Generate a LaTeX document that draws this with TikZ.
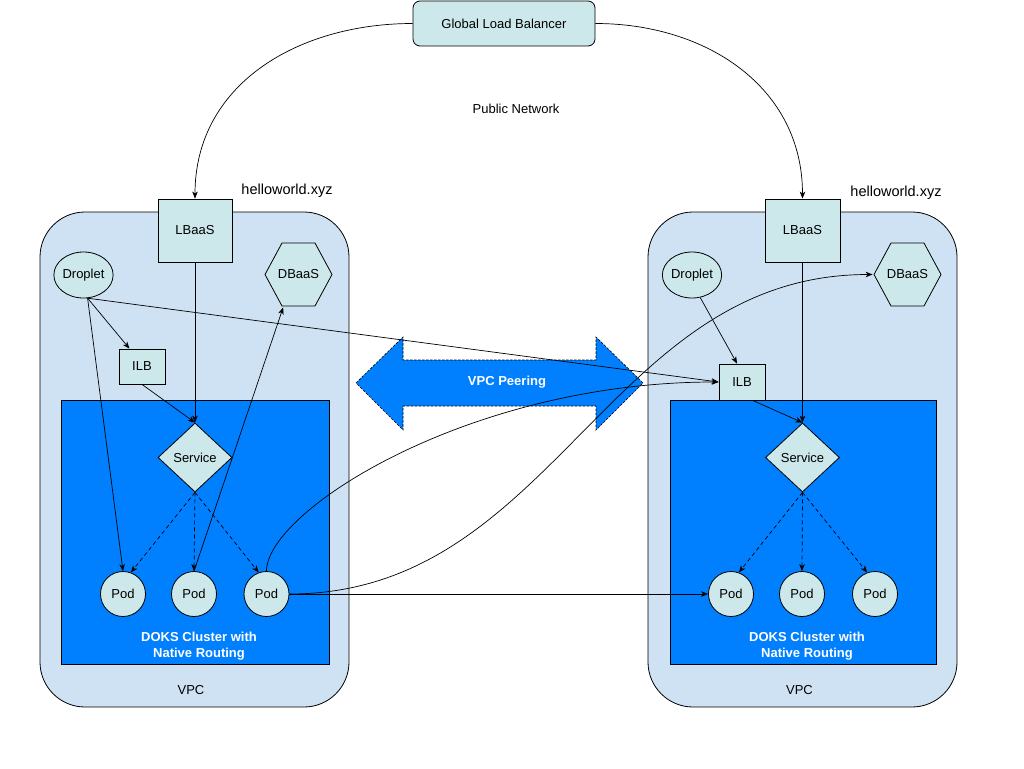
\documentclass[tikz,border=0pt]{standalone}
\usepackage{fontspec}
\setmainfont{Liberation Sans}
\usetikzlibrary{arrows.meta,shapes.geometric}
\definecolor{nodefill}{RGB}{204,232,234}
\definecolor{vpcfill}{RGB}{207,226,243}
\definecolor{doksblue}{RGB}{0,127,255}
\begin{document}
\begin{tikzpicture}[x=1pt,y=-1pt,line width=0.8pt,
  every node/.style={font=\fontsize{13}{15}\selectfont,inner sep=0pt},
  box/.style={draw,fill=nodefill,rectangle},
  pod/.style={draw,fill=nodefill,circle,minimum size=45pt},
  drop/.style={draw,fill=nodefill,ellipse,minimum width=59pt,minimum height=46pt},
  svc/.style={draw,fill=nodefill,diamond,aspect=1.07,minimum width=74pt,minimum height=69pt},
  hexnode/.style={minimum width=69pt,minimum height=65pt,
    path picture={\draw[fill=nodefill,line width=0.8pt]
      ([xshift=1pt]path picture bounding box.west) --
      ([xshift=18pt,yshift=-1pt]path picture bounding box.north west) --
      ([xshift=-18pt,yshift=-1pt]path picture bounding box.north east) --
      ([xshift=-1pt]path picture bounding box.east) --
      ([xshift=-18pt,yshift=1pt]path picture bounding box.south east) --
      ([xshift=18pt,yshift=1pt]path picture bounding box.south west) -- cycle;}},
  vpc/.style={draw,fill=vpcfill,rounded corners=45pt},
  doks/.style={draw,fill=doksblue},
  doksText/.style={text=white,font=\fontsize{13}{16}\selectfont\bfseries,align=center},
  conn/.style={-{Stealth[length=7pt,width=5.5pt,inset=2pt]},line width=0.7pt},
  dconn/.style={conn,dash pattern=on 4pt off 3pt},
  peer/.style={fill=doksblue,draw=black,line width=0.6pt,dash pattern=on 2.5pt off 1.5pt}
]
\useasboundingbox[fill=white] (0,0) rectangle (1024,768);

% Global load balancer
\node[box,rounded corners=7pt,minimum width=182pt,minimum height=45pt] (glb) at (504,23.5) {Global Load Balancer};
\node (pub) at (516,109) {Public Network};

% VPC containers
\draw[vpc] (40,212) rectangle (349,707);
\draw[vpc] (648,212) rectangle (957,707);
\draw[doks] (61,400) rectangle (329,664);
\draw[doks] (670,400) rectangle (936,664);

\node[doksText] (ldoks) at (199,646) {DOKS Cluster with\\Native Routing};
\node[doksText] (rdoks) at (807,646) {DOKS Cluster with\\Native Routing};
\node (lvpc) at (191,690) {VPC};
\node (rvpc) at (799.5,690) {VPC};

% VPC peering arrow
\draw[peer] (356,383) -- (403,337) -- (403,360) -- (596,360) -- (596,337) -- (643,383)
  -- (596,430) -- (596,406) -- (403,406) -- (403,430) -- cycle;
\node[text=white,font=\fontsize{13}{15}\selectfont\bfseries] (peering) at (507,382) {VPC Peering};

% labels
\node[font=\fontsize{14.5}{16}\selectfont] (lhw) at (287,191) {helloworld.xyz};
\node[font=\fontsize{14.5}{16}\selectfont] (rhw) at (896,193) {helloworld.xyz};

% left side nodes
\node[box,minimum width=74pt,minimum height=63pt] (lLB) at (195,230.5) {LBaaS};
\node[drop] (lDrop) at (83.5,275) {Droplet};
\node[hexnode] (lDB) at (298.5,274.5) {DBaaS};
\node[box,minimum width=46pt,minimum height=35pt] (lILB) at (142,366.5) {ILB};
\node[svc] (lSvc) at (195,457.5) {Service};
\node[pod] (lP1) at (123,594) {Pod};
\node[pod] (lP2) at (194,594) {Pod};
\node[pod] (lP3) at (266.5,594) {Pod};

% right side nodes
\node[box,minimum width=75pt,minimum height=63pt] (rLB) at (802.5,230.5) {LBaaS};
\node[drop] (rDrop) at (692,275) {Droplet};
\node[hexnode] (rDB) at (907.5,274.5) {DBaaS};
\node[box,minimum width=46pt,minimum height=36pt] (rILB) at (742,382) {ILB};
\node[svc] (rSvc) at (802.5,457.5) {Service};
\node[pod] (rP1) at (731,594) {Pod};
\node[pod] (rP2) at (802,594) {Pod};
\node[pod] (rP3) at (875,594) {Pod};

% public network connectors
\draw[conn] (glb.west) to[out=180,in=90,looseness=1.05] (lLB.north);
\draw[conn] (glb.east) to[out=0,in=90,looseness=1.05] (rLB.north);

% left connectors
\draw[conn] (lLB.south) -- (lSvc.north);
\draw[conn] (lDrop.-80) -- (lILB.125);
\draw[conn] (lDrop.-80) -- (lP1.north);
\draw[conn] (lDrop.-80) -- (rILB.west);
\draw[conn] (lILB.south) -- (lSvc.north);
\draw[conn] (lP2.north) -- (lDB.-115);
\draw[dconn] (lSvc.south) -- (lP1.70);
\draw[dconn] (lSvc.south) -- (lP2.north);
\draw[dconn] (lSvc.south) -- (lP3.110);

% cross connectors
\draw[conn] (lP3.north) .. controls +(0,-60) and +(-250,0) .. (rILB.west);
\draw[conn] (lP3.east) -- (rP1.west);
\draw[conn] (lP3.east) to[out=0,in=180,looseness=1.02] (rDB.west);

% right connectors
\draw[conn] (rLB.south) -- (rSvc.north);
\draw[conn] (rDrop.-70) -- (rILB.105);
\draw[conn] (rILB.-60) -- (rSvc.north);
\draw[dconn] (rSvc.south) -- (rP1.70);
\draw[dconn] (rSvc.south) -- (rP2.north);
\draw[dconn] (rSvc.south) -- (rP3.110);
\end{tikzpicture}
\end{document}
